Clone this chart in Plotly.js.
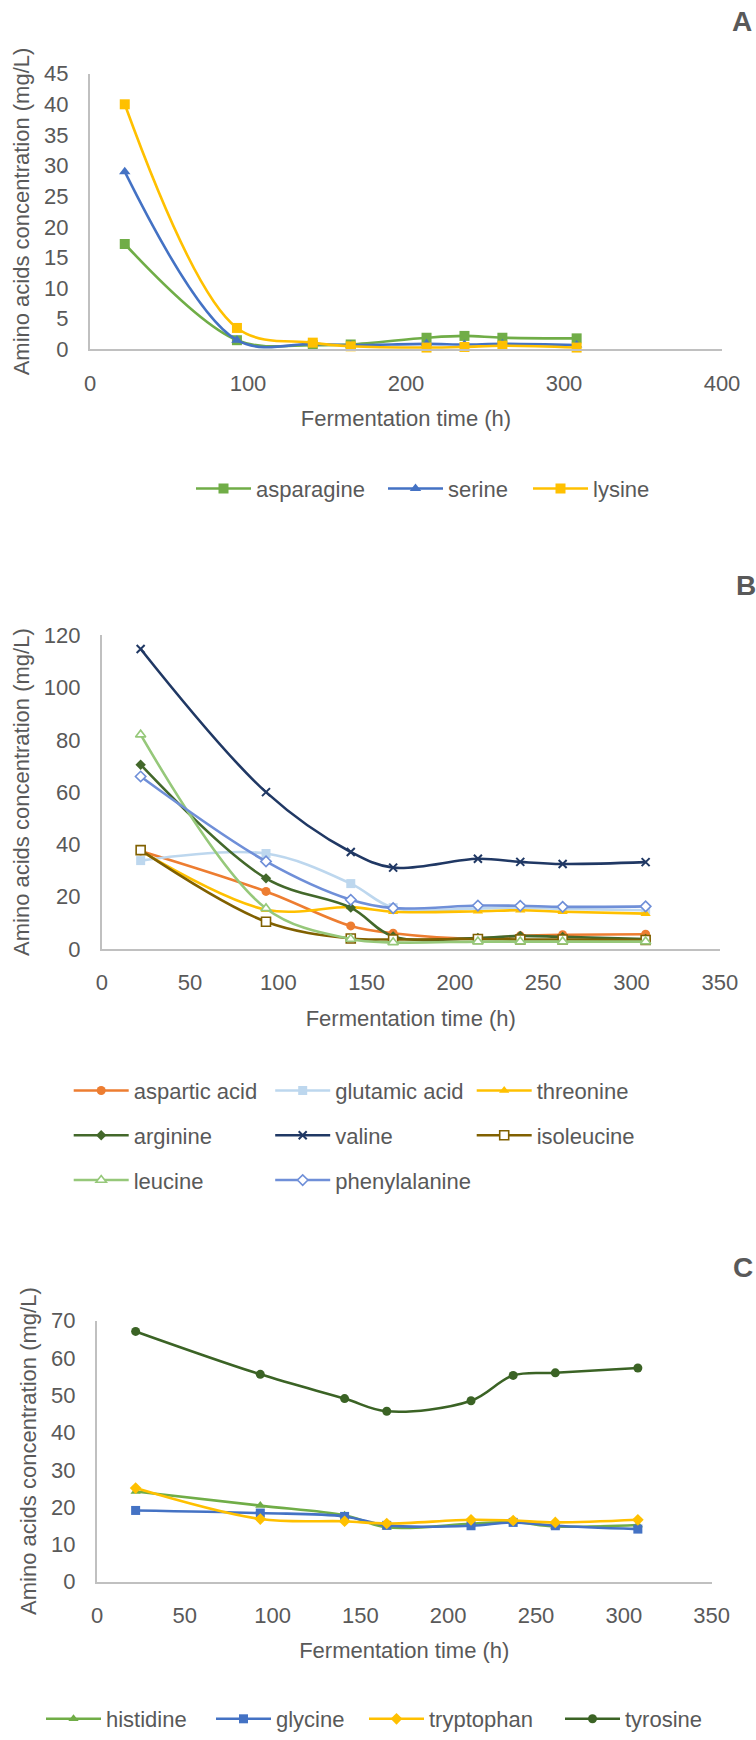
<!DOCTYPE html>
<html>
<head>
<meta charset="utf-8">
<script src="https://cdn.plot.ly/plotly-3.0.1.min.js"></script>
<style>html,body{margin:0;padding:0;background:#fff;}#chart{width:756px;height:1740px;}</style>
</head>
<body>
<div id="chart"></div>
<script>
// ---- data ----
var timeH = [22, 93, 141, 165, 213, 237, 261, 308];

// Panel A
var asparagine = [17.2, 1.5, 0.7, 0.8, 1.9, 2.2, 1.9, 1.8];
var serine     = [29.0, 1.5, 0.9, 0.7, 0.9, 0.8, 0.9, 0.7];
var lysine     = [40.0, 3.5, 1.1, 0.5, 0.3, 0.4, 0.6, 0.3];

// Panel B
var asparticAcid  = [37.5, 22.0, 8.8, 6.0, 4.0, 5.0, 5.4, 5.6];
var glutamicAcid  = [33.8, 36.5, 25.0, 15.8, 15.5, 15.8, 15.3, 14.8];
var threonine     = [37.5, 15.0, 16.0, 14.2, 14.4, 14.8, 14.2, 13.5];
var arginine      = [70.5, 27.0, 15.8, 4.8, 4.2, 5.0, 4.6, 3.8];
var valine        = [114.8, 60.0, 37.1, 31.1, 34.5, 33.3, 32.5, 33.2];
var isoleucine    = [37.8, 10.4, 4.0, 3.6, 3.8, 3.6, 3.6, 3.4];
var leucine       = [82.0, 15.5, 3.8, 2.5, 2.8, 2.8, 2.8, 2.8];
var phenylalanine = [66.0, 33.5, 18.8, 15.6, 16.6, 16.5, 16.1, 16.3];

// Panel C
var histidine  = [24.2, 20.4, 17.8, 14.6, 15.5, 16.0, 14.8, 15.2];
var glycine    = [19.1, 18.4, 17.5, 15.1, 15.0, 15.9, 15.0, 14.1];
var tryptophan = [25.1, 16.8, 16.2, 15.6, 16.6, 16.4, 15.9, 16.6];
var tyrosine   = [67.1, 55.6, 49.1, 45.7, 48.5, 55.3, 56.0, 57.3];

var panelLabels = ["A", "B", "C"];
var xTitle = "Fermentation time (h)";
var yTitle = "Amino acids concentration (mg/L)";

// ---- layout helpers ----
var W = 756, H = 1740;
function fx(px) { return px / W; }
function fy(py) { return 1 - py / H; }
var FONT = "Liberation Sans, Arial, sans-serif";
var GREY = "#595959";

function tr(name, y, xa, ya, legend, color, symbol, size, open, extra) {
  var m = {symbol: symbol, size: size, color: open ? "#ffffff" : color,
           line: {color: color, width: open ? 1.6 : 0}};
  if (extra) { for (var k in extra) m[k] = extra[k]; }
  return {
    type: "scatter", mode: "lines+markers", name: name,
    x: timeH, y: y, xaxis: xa, yaxis: ya, legend: legend,
    line: {color: color, width: 2.6, shape: "spline", smoothing: 1},
    marker: m, cliponaxis: false, hoverinfo: "x+y+name"
  };
}

var traces = [
  tr("asparagine", asparagine, "x", "y", "legend", "#70AD47", "square", 10, false),
  tr("serine", serine, "x", "y", "legend2", "#4472C4", "triangle-up", 10, false),
  tr("lysine", lysine, "x", "y", "legend3", "#FFC000", "square", 10, false),

  tr("aspartic acid", asparticAcid, "x2", "y2", "legend4", "#ED7D31", "circle", 9, false),
  tr("glutamic acid", glutamicAcid, "x2", "y2", "legend4", "#BDD7EE", "square", 9, false),
  tr("threonine", threonine, "x2", "y2", "legend4", "#FFC000", "triangle-up", 9, false),
  tr("arginine", arginine, "x2", "y2", "legend5", "#43682B", "diamond", 8, false),
  tr("valine", valine, "x2", "y2", "legend5", "#203864", "x-thin", 8, false, {line: {color: "#203864", width: 2}}),
  tr("isoleucine", isoleucine, "x2", "y2", "legend5", "#806000", "square", 9, true),
  tr("leucine", leucine, "x2", "y2", "legend6", "#96C87A", "triangle-up", 9, true),
  tr("phenylalanine", phenylalanine, "x2", "y2", "legend6", "#6F8FD8", "diamond", 8, true),

  tr("histidine", histidine, "x3", "y3", "legend7", "#70AD47", "triangle-up", 9, false),
  tr("glycine", glycine, "x3", "y3", "legend8", "#4472C4", "square", 9, false),
  tr("tryptophan", tryptophan, "x3", "y3", "legend9", "#FFC000", "diamond", 9, false),
  tr("tyrosine", tyrosine, "x3", "y3", "legend10", "#3B6325", "circle", 9, false)
];

function xAxis(domainPx, range, dtick, anchor) {
  return {
    domain: [fx(domainPx[0]), fx(domainPx[1])], anchor: anchor,
    range: range, dtick: dtick, tick0: 0, showgrid: false, zeroline: false,
    showline: true, linecolor: "#C0C0C0", linewidth: 2, ticks: "",
    ticklabelstandoff: 13, tickfont: {family: FONT, size: 22, color: GREY},
    fixedrange: true,
    title: {text: xTitle, font: {family: FONT, size: 22, color: GREY}, standoff: 16}
  };
}
function yAxis(domainPx, range, dtick, anchor, standoff) {
  return {
    domain: [fy(domainPx[1]), fy(domainPx[0])], anchor: anchor,
    range: range, dtick: dtick, tick0: 0, showgrid: false, zeroline: false,
    showline: true, linecolor: "#C0C0C0", linewidth: 2, ticks: "",
    ticklabelstandoff: 15, tickfont: {family: FONT, size: 22, color: GREY},
    fixedrange: true,
    title: {text: yTitle, font: {family: FONT, size: 22, color: GREY}, standoff: standoff}
  };
}
function legendAt(xPx, yPx, entryW) {
  var l = {orientation: "h", x: fx(xPx), y: fy(yPx), xanchor: "left", yanchor: "middle",
           font: {family: FONT, size: 22, color: GREY}, bgcolor: "rgba(0,0,0,0)",
           itemwidth: 55, itemclick: false, itemdoubleclick: false};
  if (entryW) { l.entrywidth = entryW; l.entrywidthmode = "pixels"; }
  return l;
}

var layout = {
  width: W, height: H,
  margin: {l: 0, r: 0, t: 0, b: 0},
  paper_bgcolor: "#ffffff", plot_bgcolor: "#ffffff",
  font: {family: FONT, size: 22, color: GREY},
  showlegend: true,
  xaxis:  xAxis([90, 722], [0, 400], 100, "y"),
  yaxis:  yAxis([74, 351], [0, 45], 5, "x", 8),
  xaxis2: xAxis([101.8, 719.8], [0, 350], 50, "y2"),
  yaxis2: yAxis([638.3, 953.3], [0, 120], 20, "x2", 8),
  xaxis3: xAxis([97, 711.6], [0, 350], 50, "y3"),
  yaxis3: yAxis([1326.7, 1589], [0, 70], 10, "x3", 8),
  // panel A legend entries
  legend:  legendAt(191, 491),
  legend2: legendAt(383, 491),
  legend3: legendAt(528, 491),
  // panel B legend rows
  legend4: legendAt(68.7, 1095.7, 131.5),
  legend5: legendAt(68.7, 1140.7, 131.5),
  legend6: legendAt(68.7, 1185.7, 131.5),
  // panel C legend entries
  legend7:  legendAt(41, 1727),
  legend8:  legendAt(211, 1727),
  legend9:  legendAt(364, 1727),
  legend10: legendAt(560, 1727),
  annotations: [
    {text: "<b>" + panelLabels[0] + "</b>", x: fx(742), y: fy(22)},
    {text: "<b>" + panelLabels[1] + "</b>", x: fx(746), y: fy(588)},
    {text: "<b>" + panelLabels[2] + "</b>", x: fx(743), y: fy(1273)}
  ].map(function (a) {
    a.xref = "paper"; a.yref = "paper"; a.showarrow = false;
    a.xanchor = "center"; a.yanchor = "middle";
    a.font = {family: FONT, size: 28, color: GREY};
    return a;
  })
};

Plotly.newPlot("chart", traces, layout, {displayModeBar: false, responsive: false});
</script>
</body>
</html>
